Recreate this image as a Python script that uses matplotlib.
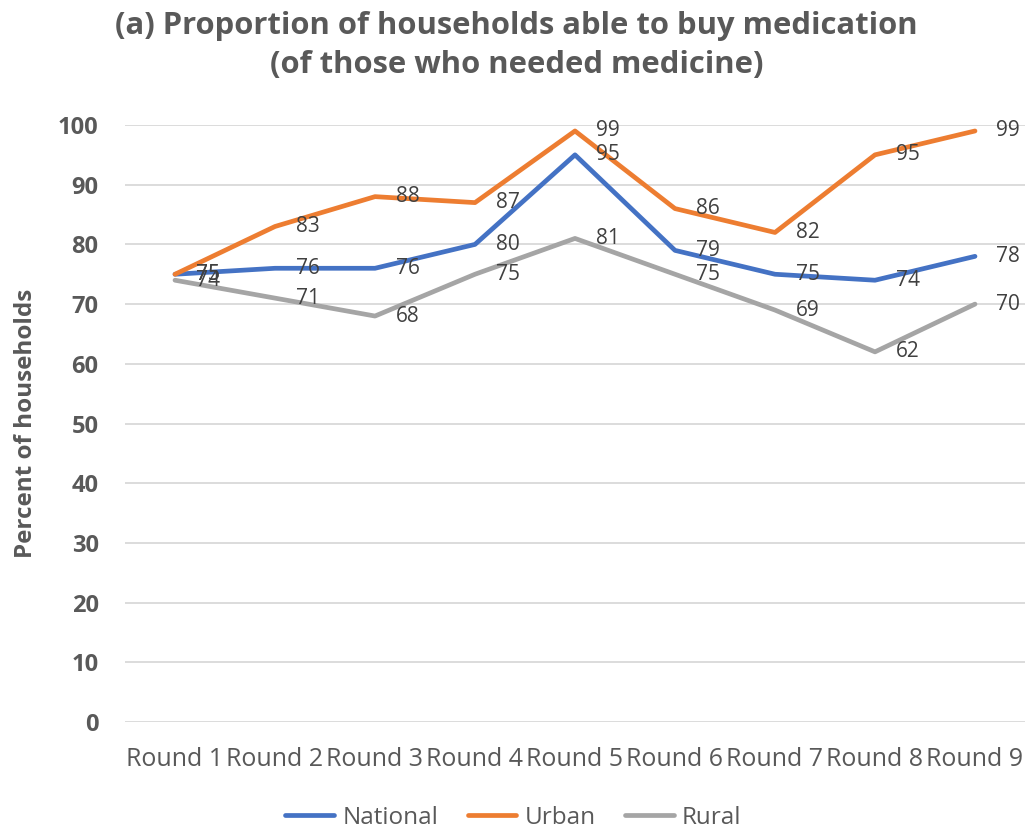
import matplotlib.pyplot as plt

rounds = ["Round 1", "Round 2", "Round 3", "Round 4", "Round 5",
          "Round 6", "Round 7", "Round 8", "Round 9"]
national = [75, 76, 76, 80, 95, 79, 75, 74, 78]
urban = [75, 83, 88, 87, 99, 86, 82, 95, 99]
rural = [74, 71, 68, 75, 81, 75, 69, 62, 70]

series = [("National", national, "#4472C4"),
          ("Urban", urban, "#ED7D31"),
          ("Rural", rural, "#A5A5A5")]

plt.rcParams['font.family'] = ['Open Sans', 'DejaVu Sans']
grey = '#595959'

fig = plt.figure(figsize=(10.27, 8.32), dpi=100)
ax = fig.add_axes([125 / 1027, 1 - 722 / 832, 900 / 1027, 597 / 832])

x = list(range(len(rounds)))
for name, vals, color in series:
    ax.plot(x, vals, color=color, lw=3.4, label=name, solid_joinstyle='round',
            solid_capstyle='round')
    for xi, v in zip(x, vals):
        ax.annotate(str(v), (xi, v), xytext=(15, 0), textcoords='offset points',
                    ha='left', va='center', fontsize=15, color='#404040')

ax.set_xlim(-0.5, len(rounds) - 0.5)
ax.set_ylim(0, 100)
ax.set_yticks(range(0, 101, 10))
ax.set_xticks(x)
ax.set_xticklabels(rounds)
ax.tick_params(axis='x', length=0, labelsize=18, labelcolor=grey, pad=18)
ax.tick_params(axis='y', length=0, labelsize=17, labelcolor=grey, pad=19)
for lab in ax.get_yticklabels():
    lab.set_fontweight('bold')
ax.grid(axis='y', color='#D9D9D9', lw=1.3)
ax.set_axisbelow(True)
for sp in ax.spines.values():
    sp.set_visible(False)

ax.set_ylabel("Percent of households", fontsize=17.5, fontweight='bold', color=grey)
ax.yaxis.set_label_coords(-0.097, 0.5)

fig.text(0.503, 0.945, "(a) Proportion of households able to buy medication\n(of those who needed medicine)",
         ha='center', va='center', fontsize=22.3, fontweight='bold',
         color=grey, linespacing=1.4)

fig.legend(loc='center', bbox_to_anchor=(0.5, 0.017), ncol=3, frameon=False,
           fontsize=17.5, labelcolor=grey, handlelength=2.0,
           handletextpad=0.35, columnspacing=1.2)

fig.savefig("out.png", dpi=100)
